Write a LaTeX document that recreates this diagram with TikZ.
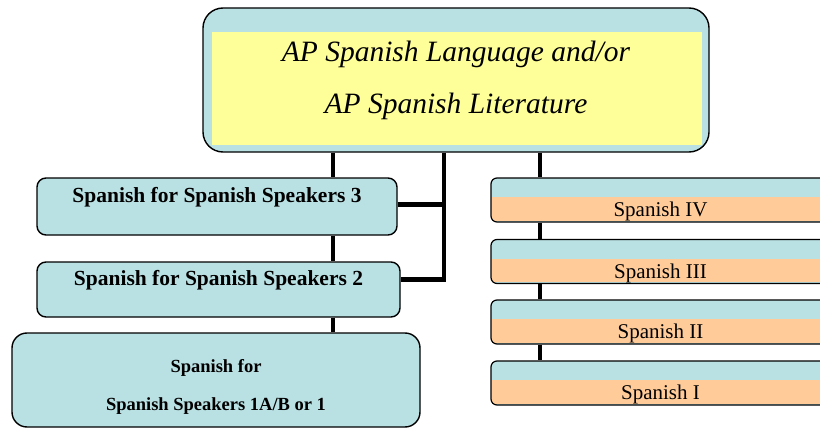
\documentclass[tikz,border=0pt]{standalone}
\usepackage{fontspec}
\setmainfont{Liberation Serif}
\usetikzlibrary{positioning}

\definecolor{apblue}{RGB}{185,224,227}
\definecolor{apyellow}{RGB}{255,255,153}
\definecolor{aporange}{RGB}{255,204,153}

\tikzset{
  link/.style={line width=4.5pt},
  topbox/.style={draw, line width=1.4pt, rounded corners=20pt, fill=apblue, inner sep=0pt,
    minimum width=506pt, minimum height=144pt, align=center,
    font=\fontsize{29.5}{52}\selectfont\itshape,
    path picture={\fill[apyellow, sharp corners] ([xshift=9pt,yshift=7pt]path picture bounding box.south west)
      rectangle ([xshift=-7pt,yshift=-24pt]path picture bounding box.north east);}},
  ssbox/.style={draw, line width=1.4pt, rounded corners=9pt, fill=apblue, inner sep=0pt,
    font=\fontsize{21.5}{24}\selectfont\bfseries, text height=0pt, text depth=8pt},
  rungbox/.style={draw, line width=1.2pt, rounded corners=6pt, fill=apblue, inner sep=0pt,
    minimum width=339pt, minimum height=44pt, text height=33pt, text depth=0pt,
    font=\fontsize{21}{24}\selectfont,
    path picture={\fill[aporange, sharp corners] ([yshift=1.5pt]path picture bounding box.south west)
      rectangle ([yshift=-19pt]path picture bounding box.north east);}}
}

\begin{document}
\begin{tikzpicture}[x=1pt,y=-1pt]
  \useasboundingbox (0,0) rectangle (820,428);

  % top
  \node[topbox] (ap) at (456,80) {AP Spanish Language and/or\\AP Spanish Literature};

  % heritage track
  \node[ssbox, minimum width=360pt, minimum height=57pt] (ss3) at (217,206.5) {Spanish for Spanish Speakers 3};
  \node[ssbox, minimum width=363pt, minimum height=55pt] (ss2) at (218.5,289.5) {Spanish for Spanish Speakers 2};
  \node[ssbox, rounded corners=15pt, minimum width=408pt, minimum height=94pt,
    font=\fontsize{18.5}{38}\selectfont\bfseries, align=center, text height=, text depth=]
    (ss1) at (216,380) {\rule{0pt}{26pt}Spanish for\\Spanish Speakers 1A/B or 1};

  % regular track
  \node[rungbox] (sp4) at (660.5,200) {Spanish IV};
  \node[rungbox] (sp3) at (660.5,261.5) {Spanish III};
  \node[rungbox] (sp2) at (660.5,322) {Spanish II};
  \node[rungbox] (sp1) at (660.5,383) {Spanish I};

  \coordinate (trunkL) at (333,0);
  \coordinate (trunkM) at (444,0);
  \coordinate (trunkR) at (540,0);

  % connectors
  \draw[link] (ap.south -| trunkL) -- (ss3.north -| trunkL);
  \draw[link] (ss3.south -| trunkL) -- (ss2.north -| trunkL);
  \draw[link] (ss2.south -| trunkL) -- (ss1.north -| trunkL);
  \draw[link] (ap.south -| trunkM) |- ([yshift=10pt]ss2.east);
  \draw[link] ([yshift=2pt]ss3.east) -- ([yshift=2pt]ss3.east -| trunkM);
  \draw[link] (ap.south -| trunkR) -- (sp4.north -| trunkR);
  \draw[link] (sp4.south -| trunkR) -- (sp3.north -| trunkR);
  \draw[link] (sp3.south -| trunkR) -- (sp2.north -| trunkR);
  \draw[link] (sp2.south -| trunkR) -- (sp1.north -| trunkR);
\end{tikzpicture}
\end{document}
